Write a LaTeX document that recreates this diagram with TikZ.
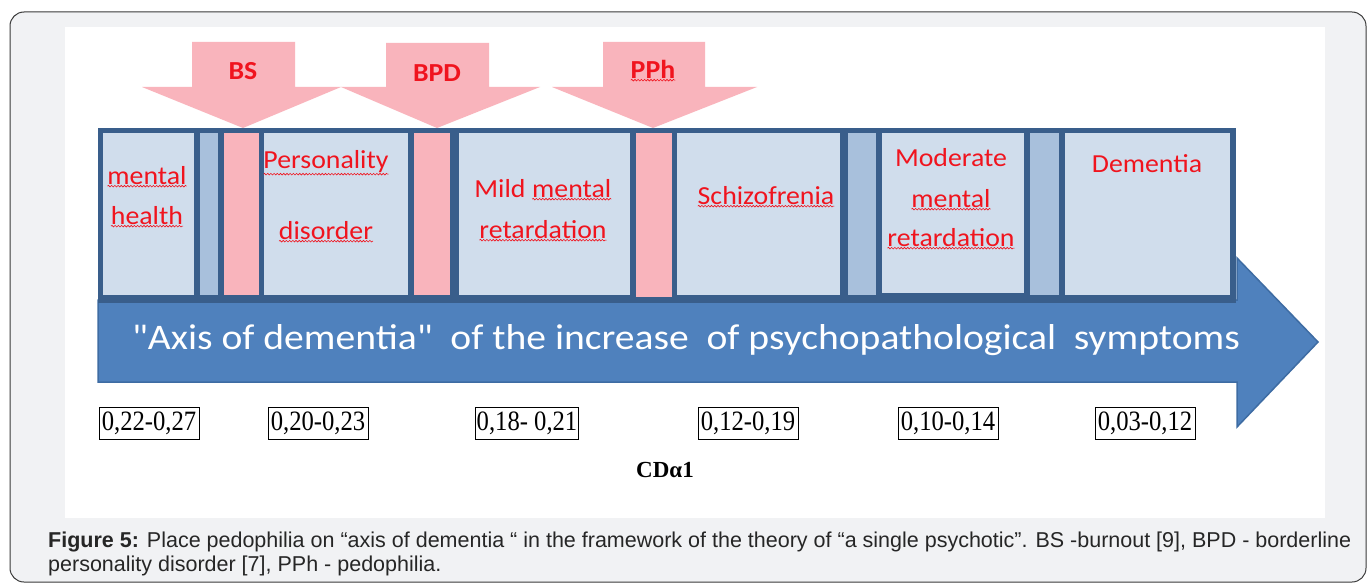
\documentclass[tikz,border=0pt]{standalone}
\usepackage{fontspec}
\setmainfont{Liberation Serif}
\newfontfamily\calib{Carlito}
\newfontfamily\arialf{Liberation Sans}
\usetikzlibrary{decorations.pathmorphing}
\definecolor{pinkc}{HTML}{F9B4BC}
\definecolor{lightb}{HTML}{D0DDEC}
\definecolor{midb}{HTML}{A8C0DC}
\definecolor{darkb}{HTML}{395E8B}
\definecolor{arrowb}{HTML}{4F81BD}
\definecolor{arrowe}{HTML}{3E6CA3}
\definecolor{labred}{HTML}{F0141E}
\definecolor{bgc}{HTML}{F1F2F4}
\definecolor{framec}{HTML}{3A3A3A}
\tikzset{
  sqline/.style={draw=labred,line width=0.6pt,decorate,decoration={snake,amplitude=0.8pt,segment length=3pt}},
  lbl/.style={text=labred,font=\calib\fontsize{26}{26}\selectfont,inner sep=0pt},
  toplbl/.style={text=labred,font=\calib\bfseries\fontsize{26}{26}\selectfont,inner sep=0pt},
  numbox/.style={draw=black,line width=0.9pt,fill=white,inner sep=1pt,minimum width=100pt,minimum height=32pt,font=\fontsize{28}{28}\selectfont},
  caption/.style={anchor=base west,inner sep=0pt,text=black!85,font=\arialf\fontsize{21.5}{21.5}\selectfont},
}
\newcommand\sq[1]{\tikz[baseline=(sqw.base)]{\node[inner sep=0pt,outer sep=0pt](sqw){#1};\draw[sqline]([yshift=-1.2pt]sqw.south west)--([yshift=-1.2pt]sqw.south east);}}
\newcommand\nb[1]{\scalebox{0.88}[1]{#1}}
\newcommand\hs[1]{\scalebox{1.07}[1]{#1}}
\begin{document}
\begin{tikzpicture}[x=1pt,y=-1pt]
\useasboundingbox (0,0) rectangle (1367,583);
\fill[white] (0,0) rectangle (1367,583);
\draw[framec,line width=1pt,fill=bgc,rounded corners=14pt] (10,12) rectangle (1366,582);
\fill[white] (65,27) rectangle (1325,518);
% big axis arrow
\draw[fill=arrowb,draw=arrowe,line width=1.5pt,line join=miter]
  (98,300) -- (1237,300) -- (1237,258) -- (1318,342) -- (1237,427) -- (1237,382) -- (98,382) -- cycle;
% top pink arrows
\fill[pinkc] (192,42) -- (295,42) -- (295,87) -- (341,87) -- (243,128) -- (142,87) -- (192,87) -- cycle;
\fill[pinkc] (386,43) -- (489,43) -- (489,87) -- (540,87) -- (437,128) -- (341,87) -- (386,87) -- cycle;
\fill[pinkc] (603,42) -- (705,42) -- (705,87) -- (757,87) -- (653,128) -- (552,87) -- (603,87) -- cycle;
\node[toplbl] (bs) at (243,71) {\hs{BS}};
\node[toplbl] (bpd) at (437,73) {\hs{BPD}};
\node[toplbl] (pph) at (653,71) {\hs{\sq{PPh}}};
% strip
\fill[darkb] (98,128) rectangle (1236,303);
\fill[lightb] (103,133) rectangle (194,295);
\fill[midb] (200,133) rectangle (218,295);
\fill[pinkc] (224,133) rectangle (259,295);
\fill[lightb] (264,133) rectangle (408,295);
\fill[pinkc] (414,133) rectangle (450,295);
\fill[lightb] (459,133) rectangle (630,295);
\fill[pinkc] (636,133) rectangle (672,297);
\fill[lightb] (677,133) rectangle (840,295);
\fill[midb] (848,133) rectangle (876,295);
\fill[lightb] (882,133) rectangle (1024,293);
\fill[midb] (1030,133) rectangle (1059,295);
\fill[lightb] (1065,133) rectangle (1230,295);
% labels
\node[lbl] (mh1) at (147,177) {\hs{\sq{mental}}};
\node[lbl] (mh2) at (147,217) {\hs{\sq{health}}};
\node[lbl] (pd1) at (326,163) {\hs{\sq{Personality}}};
\node[lbl] (pd2) at (326,232) {\hs{\sq{disorder}}};
\node[lbl] (mm1) at (543,190) {\hs{Mild \sq{mental}}};
\node[lbl] (mm2) at (543,231) {\hs{\sq{retardation}}};
\node[lbl] (sc) at (766,197) {\hs{\sq{Schizofrenia}}};
\node[lbl] (mo1) at (951,158) {\hs{Moderate}};
\node[lbl] (mo2) at (951,200) {\hs{\sq{mental}}};
\node[lbl] (mo3) at (951,239) {\hs{\sq{retardation}}};
\node[lbl] (de) at (1147,164) {\hs{Dementia}};
% axis text
\node[text=white,inner sep=0pt,font=\calib\fontsize{36}{36}\selectfont] (axis) at (686,340)
  {\scalebox{1.1}[1]{\symbol{34}Axis of dementia\symbol{34}\hspace{8pt} of the increase\hspace{8pt} of psychopathological\hspace{8pt} symptoms}};
% numbers
\node[numbox] (n1) at (149,423) {\nb{0,22-0,27}};
\node[numbox] (n2) at (318,423) {\nb{0,20-0,23}};
\node[numbox] (n3) at (527,423) {\nb{0,18- 0,21}};
\node[numbox] (n4) at (748,423) {\nb{0,12-0,19}};
\node[numbox] (n5) at (948,423) {\nb{0,10-0,14}};
\node[numbox] (n6) at (1145,423) {\nb{0,03-0,12}};
\node[inner sep=0pt,font=\bfseries\fontsize{23}{23}\selectfont] (cd) at (665,470) {CDα1};
% caption
\node[caption] (cap1) at (48,547) {\textbf{Figure 5:} Place pedophilia on “axis of dementia “ in the framework of the theory of “a single psychotic”. BS -burnout [9], BPD - borderline};
\node[caption] (cap2) at (48,571) {personality disorder [7], PPh - pedophilia.};
\end{tikzpicture}
\end{document}
